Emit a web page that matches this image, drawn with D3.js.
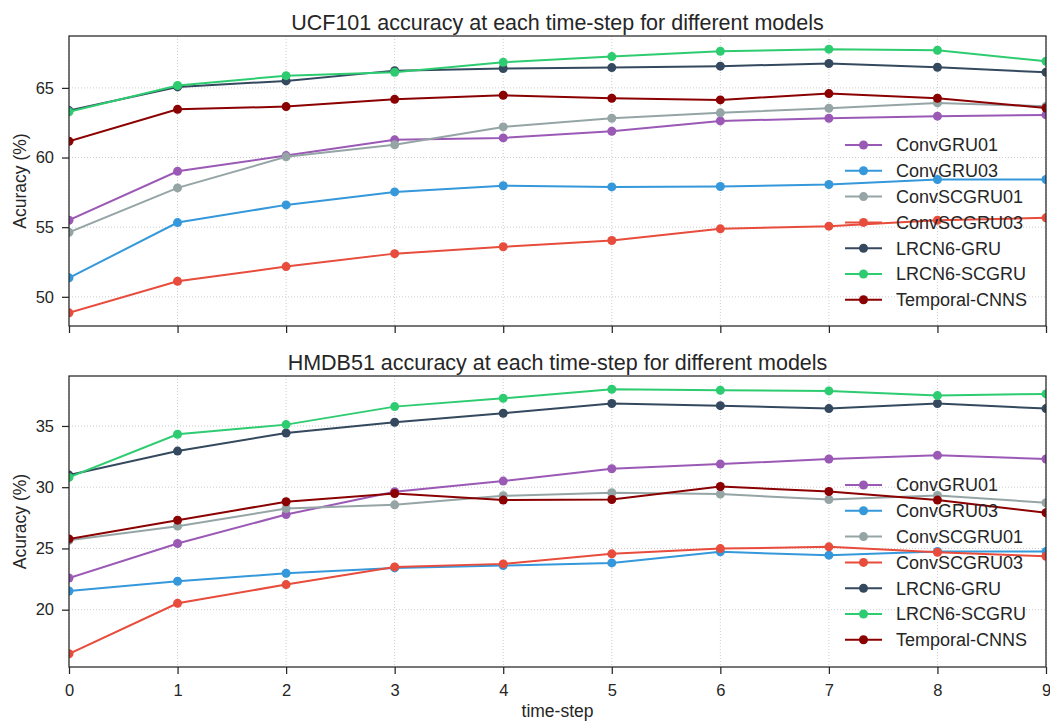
<!DOCTYPE html>
<html lang="en">
<head>
    <meta charset="UTF-8">
    <title></title>
    <style>
        body { margin: 0; background: #fff; }
        text { font-family: 'Liberation Sans', Arial, sans-serif; fill: #262626; }
    </style>
</head>
<body>
<script src="https://d3js.org/d3.v7.min.js"></script>
<script>
    var timeSteps = [0, 1, 2, 3, 4, 5, 6, 7, 8, 9];
    var modelNames = ['ConvGRU01', 'ConvGRU03', 'ConvSCGRU01', 'ConvSCGRU03',
                      'LRCN6-GRU', 'LRCN6-SCGRU', 'Temporal-CNNS'];
    var modelColors = ['#9b59b6', '#3498db', '#95a5a6', '#e74c3c',
                       '#34495e', '#2ecc71', '#8b0000'];

    // UCF101 accuracy (%) per time-step
    var ucfConvGRU01    = [55.50, 59.01, 60.14, 61.27, 61.41, 61.89, 62.63, 62.82, 62.97, 63.06];
    var ucfConvGRU03    = [51.36, 55.33, 56.60, 57.53, 57.97, 57.89, 57.92, 58.06, 58.42, 58.42];
    var ucfConvSCGRU01  = [54.63, 57.82, 60.05, 60.91, 62.20, 62.82, 63.21, 63.54, 63.92, 63.68];
    var ucfConvSCGRU03  = [48.85, 51.12, 52.17, 53.10, 53.59, 54.04, 54.88, 55.07, 55.50, 55.67];
    var ucfLRCN6GRU     = [63.37, 65.07, 65.50, 66.24, 66.39, 66.46, 66.56, 66.75, 66.48, 66.12];
    var ucfLRCN6SCGRU   = [63.28, 65.17, 65.88, 66.12, 66.84, 67.25, 67.63, 67.78, 67.70, 66.91];
    var ucfTemporalCNNS = [61.17, 63.46, 63.66, 64.18, 64.47, 64.26, 64.14, 64.59, 64.26, 63.56];

    // HMDB51 accuracy (%) per time-step
    var hmdbConvGRU01    = [22.59, 25.40, 27.77, 29.63, 30.50, 31.51, 31.89, 32.30, 32.60, 32.30];
    var hmdbConvGRU03    = [21.53, 22.32, 22.97, 23.41, 23.60, 23.82, 24.72, 24.45, 24.75, 24.75];
    var hmdbConvSCGRU01  = [25.67, 26.82, 28.26, 28.56, 29.30, 29.55, 29.44, 29.00, 29.33, 28.73];
    var hmdbConvSCGRU03  = [16.40, 20.52, 22.05, 23.49, 23.74, 24.56, 24.99, 25.13, 24.69, 24.36];
    var hmdbLRCN6GRU     = [30.99, 32.95, 34.43, 35.30, 36.04, 36.83, 36.66, 36.42, 36.83, 36.42];
    var hmdbLRCN6SCGRU   = [30.80, 34.32, 35.11, 36.58, 37.26, 38.00, 37.92, 37.86, 37.48, 37.62];
    var hmdbTemporalCNNS = [25.78, 27.31, 28.81, 29.49, 28.95, 29.00, 30.06, 29.65, 28.95, 27.91];

    var ucfTicks = [50, 55, 60, 65];
    var hmdbTicks = [20, 25, 30, 35];

    var width = 1050,
        height = 722,
        left = 69,
        right = 1046,
        ink = '#262626';

    var svg = d3.select('body').append('svg')
                .attr('width', width)
                .attr('height', height);

    var x = d3.scaleLinear().domain([0, 9]).range([left, right]);

    function paddedDomain(series) {
        var all = d3.merge(series),
            lo = d3.min(all),
            hi = d3.max(all),
            pad = (hi - lo) * 0.05;
        return [lo - pad, hi + pad];
    }

    function renderPanel(id, title, series, ticks, top, bottom, showXLabels, minorY) {
        var y = d3.scaleLinear().domain(paddedDomain(series)).range([bottom, top]);
        var g = svg.append('g').attr('class', id);

        // dotted grid
        g.append('g').selectAll('line').data(timeSteps).enter().append('line')
         .attr('x1', x).attr('x2', x)
         .attr('y1', top).attr('y2', bottom)
         .attr('stroke', '#cdcdcd').attr('stroke-width', 1)
         .attr('stroke-dasharray', '1,2');
        g.append('g').selectAll('line').data(ticks).enter().append('line')
         .attr('x1', left).attr('x2', right)
         .attr('y1', y).attr('y2', y)
         .attr('stroke', '#cdcdcd').attr('stroke-width', 1)
         .attr('stroke-dasharray', '1,2');

        g.append('clipPath').attr('id', 'clip-' + id)
         .append('rect')
         .attr('x', left).attr('y', top)
         .attr('width', right - left).attr('height', bottom - top);

        var plot = g.append('g').attr('clip-path', 'url(#clip-' + id + ')');
        var line = d3.line()
                     .x(function(d, i) { return x(timeSteps[i]); })
                     .y(function(d) { return y(d); });

        series.forEach(function(values, k) {
            var s = plot.append('g');
            s.append('path')
             .attr('d', line(values))
             .attr('fill', 'none')
             .attr('stroke', modelColors[k])
             .attr('stroke-width', 2);
            s.selectAll('circle').data(values).enter().append('circle')
             .attr('cx', function(d, i) { return x(timeSteps[i]); })
             .attr('cy', y)
             .attr('r', 4.5)
             .attr('fill', modelColors[k]);
        });

        // minor ticks
        var minorX = d3.range(0, 45).map(function(i) { return i / 5; })
                       .filter(function(v) { return v % 1 !== 0; });
        var gx = g.append('g').attr('transform', 'translate(0,' + bottom + ')');
        gx.call(d3.axisBottom(x).tickValues(minorX).tickSize(4).tickFormat(''));
        gx.call(d3.axisBottom(x).tickValues(timeSteps).tickSize(7).tickPadding(10)
                  .tickFormat(showXLabels ? d3.format('d') : ''));

        var gy = g.append('g').attr('transform', 'translate(' + left + ',0)');
        if (minorY) {
            var dom = y.domain();
            var minor = d3.range(Math.ceil(dom[0]), Math.floor(dom[1]) + 1)
                          .filter(function(v) { return v % 5 !== 0; });
            gy.call(d3.axisLeft(y).tickValues(minor).tickSize(4).tickFormat(''));
        }
        gy.call(d3.axisLeft(y).tickValues(ticks).tickSize(7).tickPadding(8));

        g.selectAll('.domain').remove();
        g.selectAll('.tick line').attr('stroke', ink).attr('stroke-width', 1.25);
        g.selectAll('.tick text').attr('font-size', '16.5px').attr('fill', ink)
         .style('font-family', "'Liberation Sans', Arial, sans-serif");

        // spines
        g.append('rect')
         .attr('x', left).attr('y', top)
         .attr('width', right - left).attr('height', bottom - top)
         .attr('fill', 'none').attr('stroke', ink).attr('stroke-width', 1.25);

        g.append('text')
         .attr('x', (left + right) / 2).attr('y', top - 6.5)
         .attr('text-anchor', 'middle')
         .attr('font-size', '21.5px')
         .text(title);

        g.append('text')
         .attr('transform', 'translate(26,' + ((top + bottom) / 2) + ') rotate(-90)')
         .attr('text-anchor', 'middle')
         .attr('font-size', '17.5px')
         .text('Acuracy (%)');

        // legend (no frame)
        var lg = g.append('g');
        modelNames.forEach(function(name, k) {
            var ly = top + 109 + k * 25.8;
            lg.append('line')
              .attr('x1', 845).attr('x2', 882).attr('y1', ly).attr('y2', ly)
              .attr('stroke', modelColors[k]).attr('stroke-width', 2);
            lg.append('circle')
              .attr('cx', 863.5).attr('cy', ly).attr('r', 4.5)
              .attr('fill', modelColors[k]);
            lg.append('text')
              .attr('x', 896).attr('y', ly).attr('dy', '0.35em')
              .attr('font-size', '18px')
              .text(name);
        });
    }

    renderPanel('ucf', 'UCF101 accuracy at each time-step for different models',
                [ucfConvGRU01, ucfConvGRU03, ucfConvSCGRU01, ucfConvSCGRU03,
                 ucfLRCN6GRU, ucfLRCN6SCGRU, ucfTemporalCNNS],
                ucfTicks, 36, 326, false, false);

    renderPanel('hmdb', 'HMDB51 accuracy at each time-step for different models',
                [hmdbConvGRU01, hmdbConvGRU03, hmdbConvSCGRU01, hmdbConvSCGRU03,
                 hmdbLRCN6GRU, hmdbLRCN6SCGRU, hmdbTemporalCNNS],
                hmdbTicks, 376, 667, true, true);

    svg.append('text')
       .attr('x', (left + right) / 2).attr('y', 717)
       .attr('text-anchor', 'middle')
       .attr('font-size', '17.5px')
       .text('time-step');
</script>
</body>
</html>
